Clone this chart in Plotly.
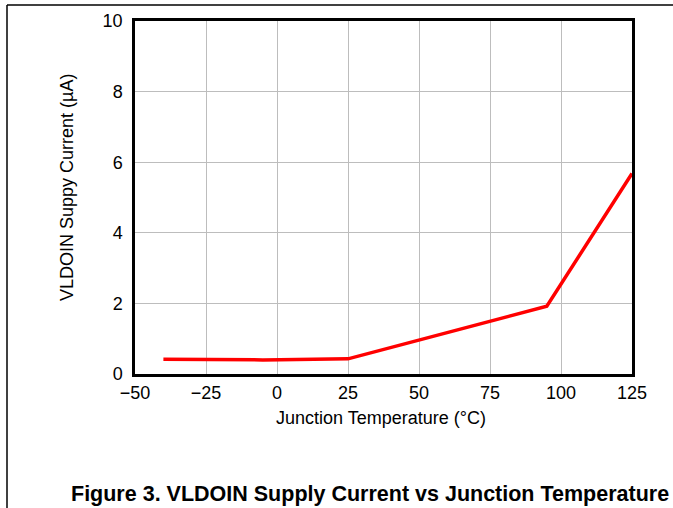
import plotly.graph_objects as go

temperature_c = [-40, -5, 25, 95, 125]
supply_current_ua = [0.42, 0.40, 0.43, 1.92, 5.68]

x_ticks = [-50, -25, 0, 25, 50, 75, 100, 125]
y_ticks = [0, 2, 4, 6, 8, 10]

W, H = 673, 508
L, R, T, B = 135, 632, 21, 374
pw, ph = R - L, B - T

def px(x):
    return (x - L) / pw

def py(y):
    return (B - y) / ph

fig = go.Figure()
fig.add_trace(go.Scatter(x=temperature_c, y=supply_current_ua, mode="lines",
                         line=dict(color="#ff0000", width=3.5), showlegend=False))

FAM = "Liberation Sans, Arial, sans-serif"
font = dict(family=FAM, size=18, color="black")

fig.update_layout(
    width=W, height=H,
    margin=dict(l=L, r=W - R, t=T, b=H - B),
    paper_bgcolor="white", plot_bgcolor="white",
    font=font,
    xaxis=dict(range=[-50, 125], tickvals=x_ticks, showgrid=True, gridcolor="#bdbdbd",
               gridwidth=1, showline=True, linecolor="black", linewidth=2.5, mirror=True,
               zeroline=False, ticks="", ticklabelstandoff=1, tickfont=font),
    yaxis=dict(range=[0, 10], tickvals=y_ticks, showgrid=True, gridcolor="#bdbdbd",
               gridwidth=1, showline=True, linecolor="black", linewidth=2.5, mirror=True,
               zeroline=False, ticks="", ticklabelstandoff=6, tickfont=font),
    shapes=[
        dict(type="line", xref="paper", yref="paper", x0=px(7), x1=px(680), y0=py(5), y1=py(5),
             line=dict(color="black", width=1.5)),
        dict(type="line", xref="paper", yref="paper", x0=px(7), x1=px(7), y0=py(5), y1=py(515),
             line=dict(color="black", width=1.5)),
    ],
    annotations=[
        dict(text="Junction Temperature (°C)", xref="paper", yref="paper",
             x=px(381), y=py(418), xanchor="center", yanchor="middle",
             showarrow=False, font=font),
        dict(text="VLDOIN Suppy Current (µA)", xref="paper", yref="paper",
             x=px(67), y=py(188), xanchor="center", yanchor="middle", textangle=-90,
             showarrow=False, font=font),
        dict(text="<b>Figure 3. VLDOIN Supply Current vs Junction Temperature</b>",
             xref="paper", yref="paper", x=px(671), y=py(494), xanchor="right", yanchor="middle",
             showarrow=False, font=dict(family=FAM, size=21.5, color="black")),
    ],
)

fig.write_html("out.html", config={"displayModeBar": False},
               post_script="document.body.style.margin='0px';")
